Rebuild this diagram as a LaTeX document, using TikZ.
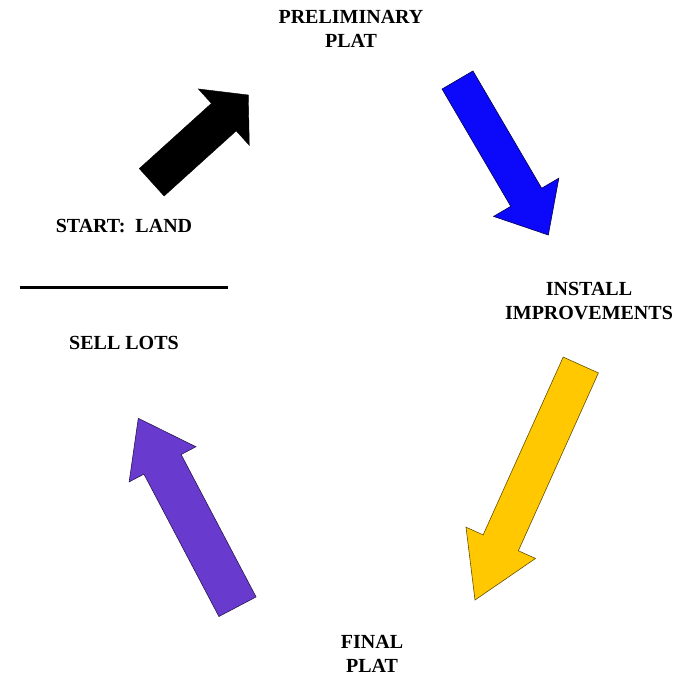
\documentclass[tikz,border=0pt]{standalone}
\usepackage{fontspec}
\setmainfont{Liberation Serif}
\usetikzlibrary{calc}
\definecolor{arrowblue}{RGB}{12,8,250}
\definecolor{arrowgold}{RGB}{255,200,0}
\definecolor{arrowpurple}{RGB}{104,58,206}
\newcommand{\blockarrow}[6]{%
  \coordinate (#1-b) at ($(#2)!#5!(#1)$);
  \filldraw[#6] ($(#1)!#3!90:(#2)$) -- ($(#1-b)!#3!90:(#2)$) -- ($(#1-b)!#4!90:(#2)$) -- (#2)
    -- ($(#1-b)!#4!-90:(#2)$) -- ($(#1-b)!#3!-90:(#2)$) -- ($(#1)!#3!-90:(#2)$) -- cycle;
}
\begin{document}
\begin{tikzpicture}[x=1pt, y=-1pt, lbl/.style={align=center, font=\bfseries\fontsize{20}{24}\selectfont}]
\useasboundingbox (0,0) rectangle (685,679);
\node[lbl] (prelim) at (351,29) {PRELIMINARY\\PLAT};
\node[lbl] (install) at (589,301) {INSTALL\\IMPROVEMENTS};
\node[lbl] (final) at (372,654) {FINAL\\PLAT};
\node[lbl] (start) at (124,226) {START:\ \ LAND};
\node[lbl] (sell) at (124,343) {SELL LOTS};

\coordinate (rule-l) at (20,287);
\coordinate (rule-r) at (228,287);
\draw[line width=3pt] (rule-l) -- (rule-r);

\coordinate (a1) at (151.7,182.3);
\coordinate (a1-tip) at (248.3,95);
\coordinate (a2) at (457.5,80);
\coordinate (a2-tip) at (548.3,235);
\coordinate (a3) at (580.8,365);
\coordinate (a3-tip) at (475,600);
\coordinate (a4) at (237.5,606.7);
\coordinate (a4-tip) at (138.3,418.3);

\blockarrow{a1}{a1-tip}{18.5pt}{38pt}{33pt}{fill=black, draw=black}
\blockarrow{a2}{a2-tip}{17.9pt}{37.8pt}{43.7pt}{fill=arrowblue, draw=black!70!arrowblue, line width=0.6pt}
\blockarrow{a3}{a3-tip}{19.3pt}{38.1pt}{62.7pt}{fill=arrowgold, draw=black!60!arrowgold, line width=0.6pt}
\blockarrow{a4}{a4-tip}{21pt}{37.7pt}{52pt}{fill=arrowpurple, draw=black!60!arrowpurple, line width=0.6pt}
\end{tikzpicture}
\end{document}
